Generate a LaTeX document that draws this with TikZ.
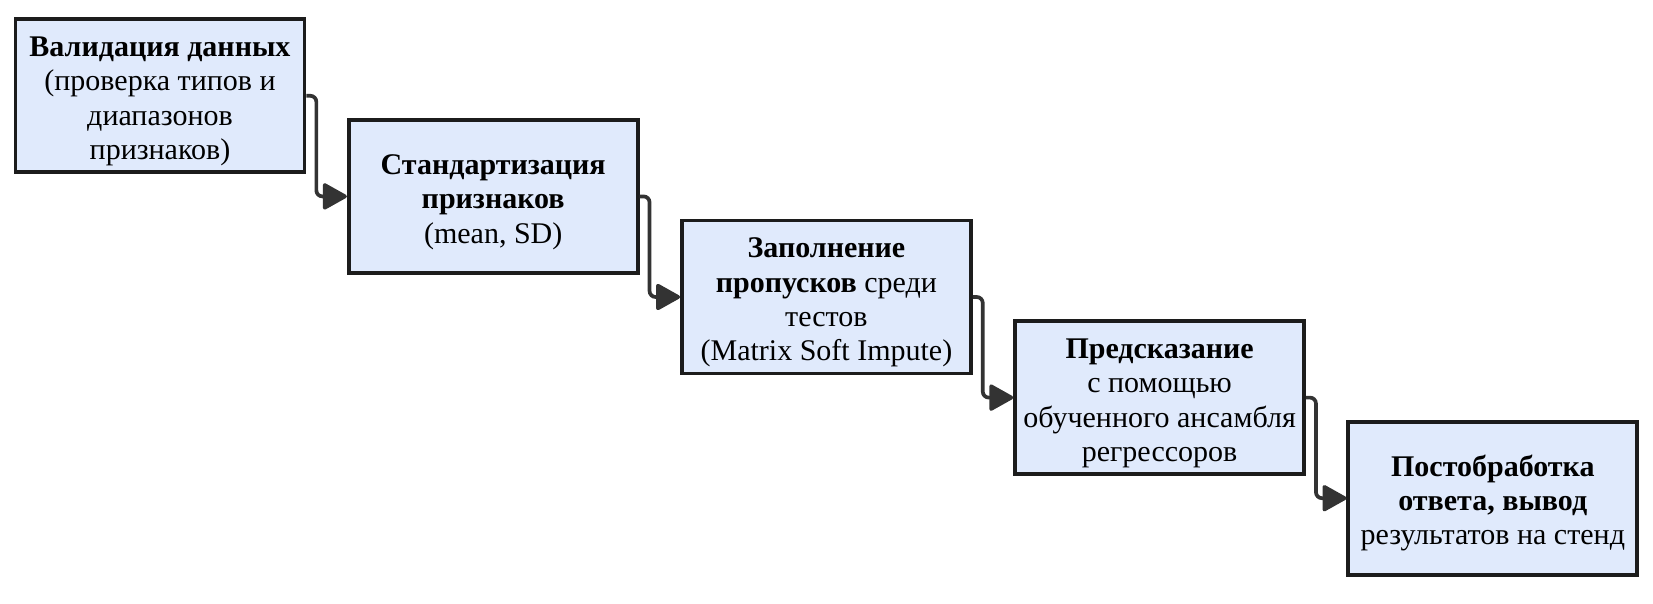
\documentclass[tikz,border=0pt]{standalone}
\usepackage{fontspec}
\setmainfont{Liberation Serif}
\usetikzlibrary{arrows.meta}
\definecolor{boxfill}{HTML}{E0EAFC}
\definecolor{boxline}{HTML}{1C1C1C}
\definecolor{edgecol}{HTML}{333333}
\newcommand{\topstrut}{\rule{0pt}{31pt}}
\tikzset{
  stepbox/.style={draw=boxline, fill=boxfill, line width=3.7pt, minimum width=289pt, minimum height=153pt, align=center, inner sep=0pt, font=\fontsize{30}{34.3}\selectfont},
  edge/.style={draw=edgecol, line width=3.7pt, rounded corners=6pt, -{Triangle[length=26pt,width=28pt,round]}}
}
\begin{document}
\begin{tikzpicture}[x=1pt,y=-1pt]
\useasboundingbox (0,0) rectangle (1653,604);
\node[stepbox] (b1) at (160,95.8) {\topstrut\textbf{Валидация данных}\\(проверка типов и\\диапазонов\\признаков)};
\node[stepbox] (b2) at (493.2,196.4) {\topstrut\textbf{Стандартизация}\\\textbf{признаков}\\(mean, SD)};
\node[stepbox] (b3) at (826.4,297) {\topstrut\textbf{Заполнение}\\\textbf{пропусков} среди\\тестов\\(Matrix Soft Impute)};
\node[stepbox] (b4) at (1159.6,397.6) {\topstrut\textbf{Предсказание}\\с помощью\\обученного ансамбля\\регрессоров};
\node[stepbox] (b5) at (1492.8,498.2) {\topstrut\textbf{Постобработка}\\\textbf{ответа, вывод}\\результатов на стенд};
\draw[edge] (b1.east) -- ++(10,0) |- (b2.west);
\draw[edge] (b2.east) -- ++(10,0) |- (b3.west);
\draw[edge] (b3.east) -- ++(10,0) |- (b4.west);
\draw[edge] (b4.east) -- ++(10,0) |- (b5.west);
\end{tikzpicture}
\end{document}
